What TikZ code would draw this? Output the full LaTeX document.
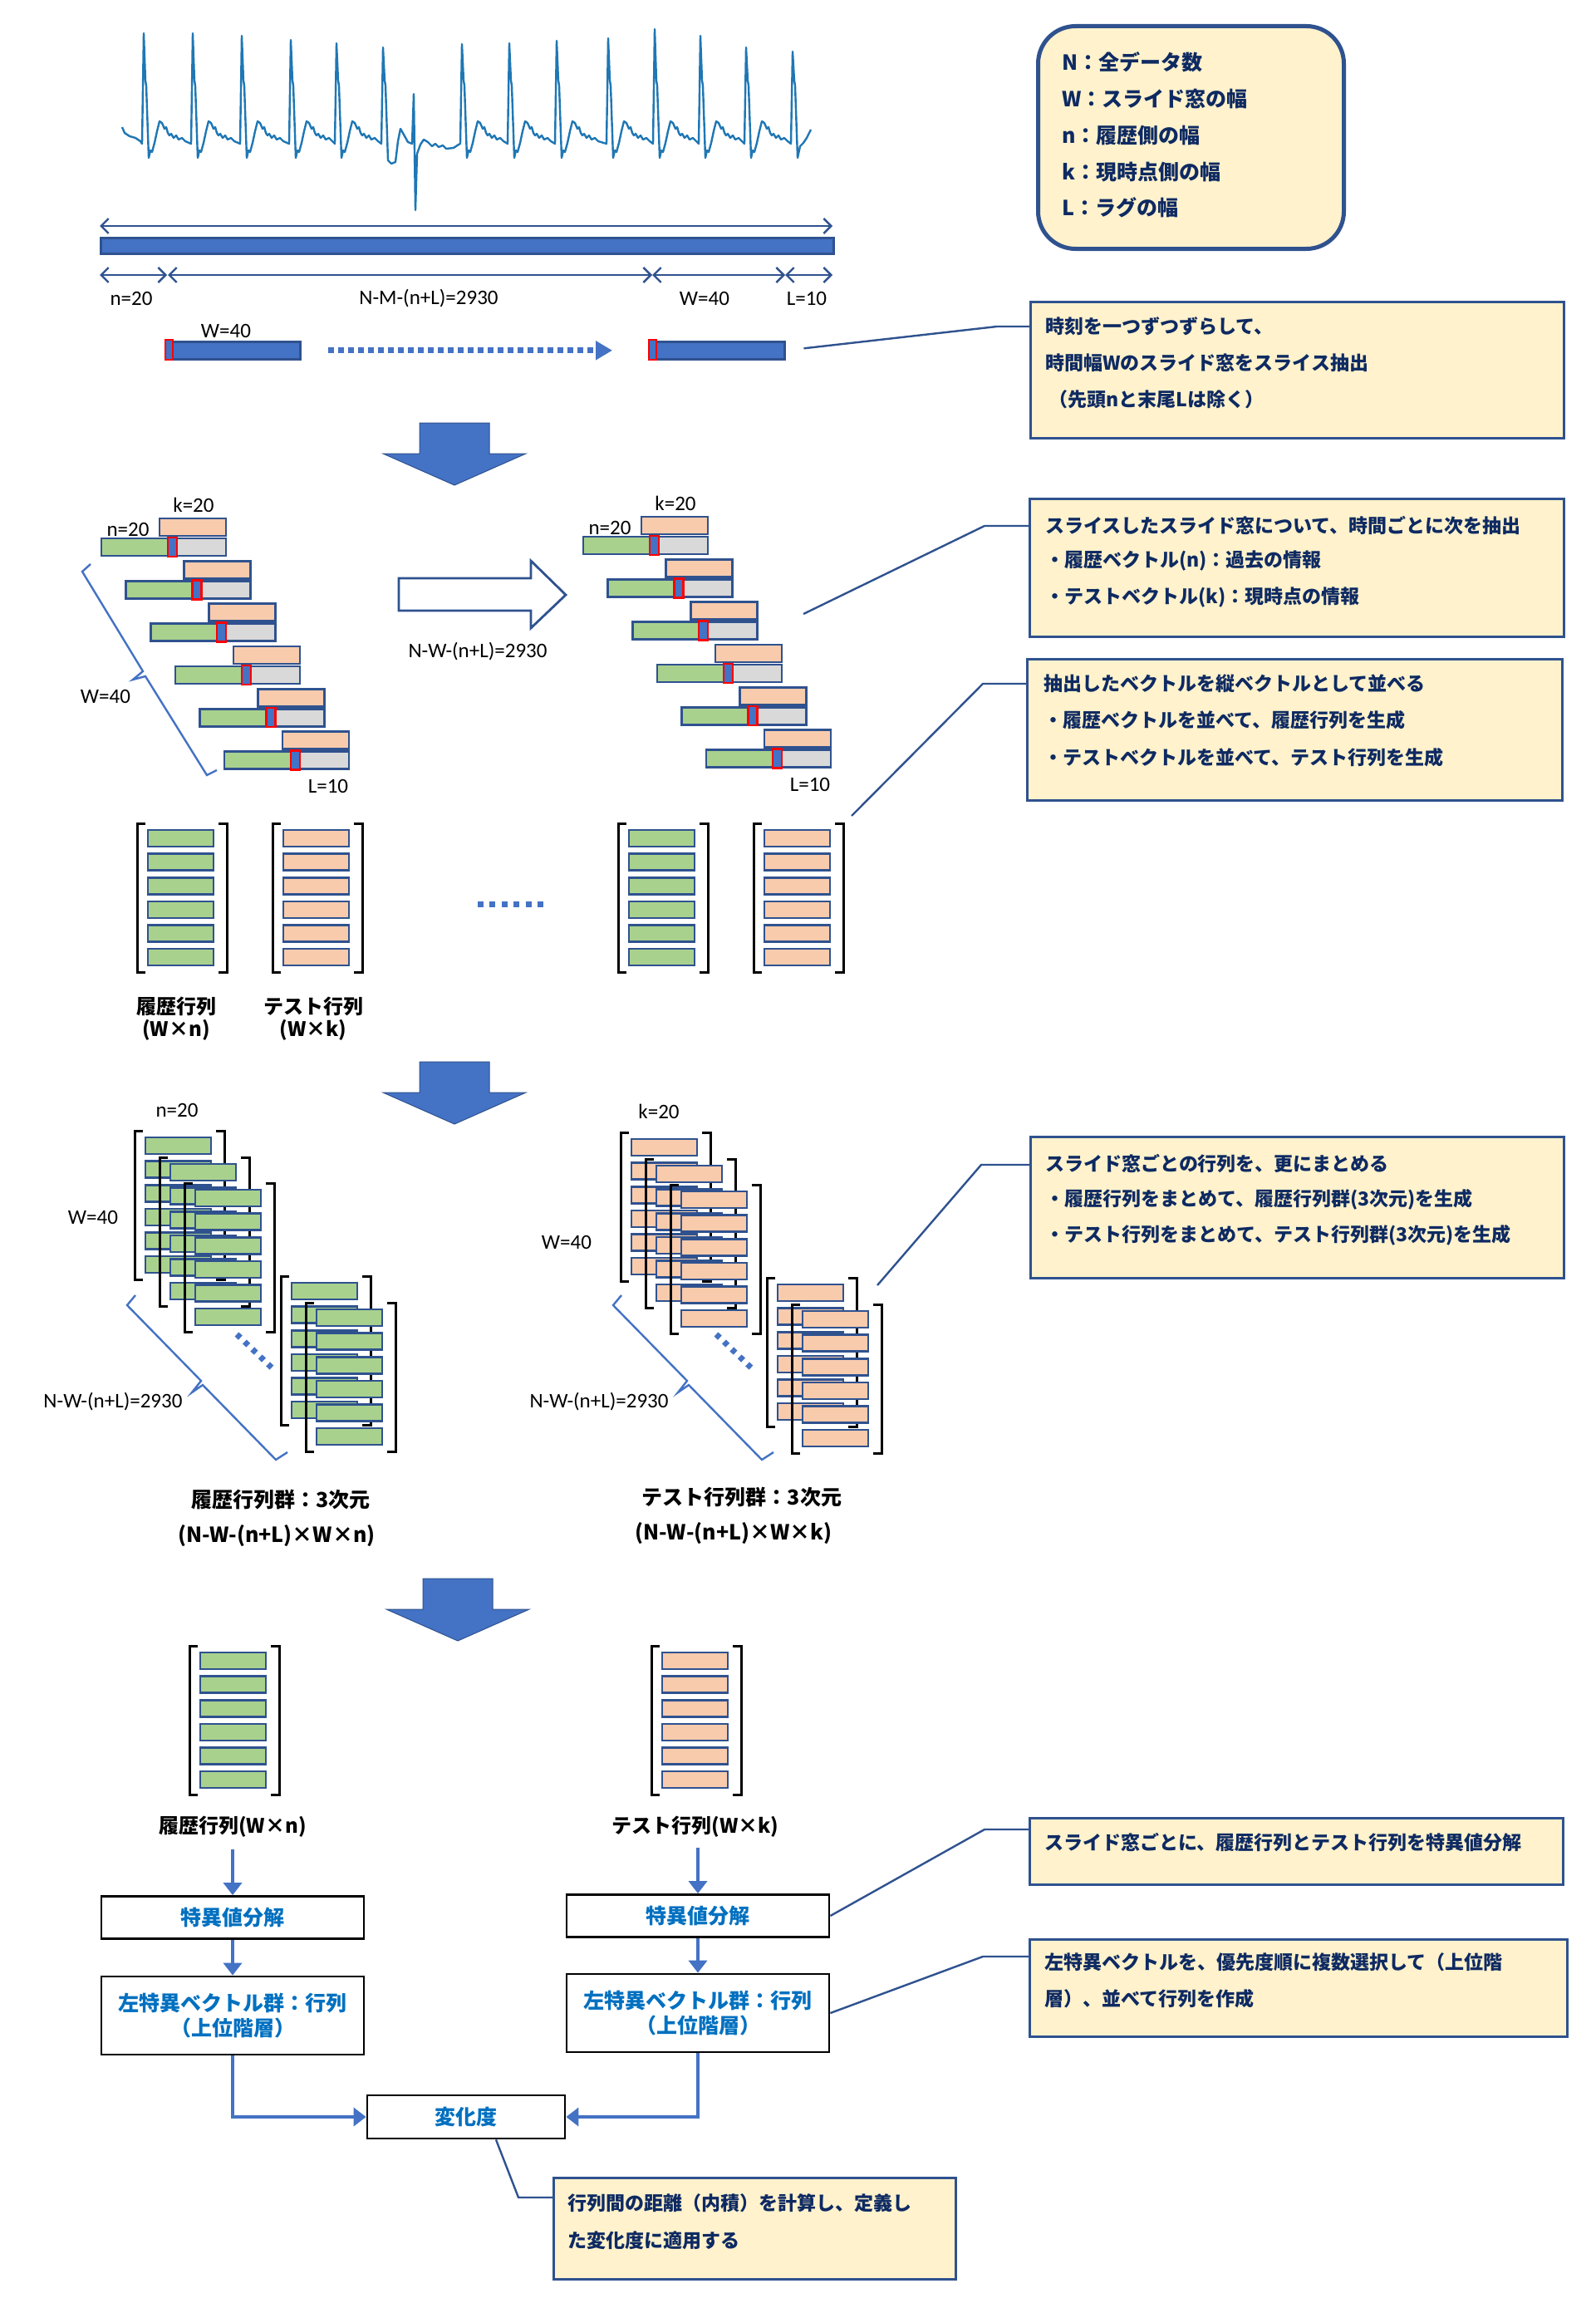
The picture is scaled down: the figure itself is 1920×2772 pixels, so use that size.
\documentclass[tikz,border=0pt]{standalone}
\usepackage{fontspec}
\newfontfamily\jp{Noto Sans CJK JP}
\newfontfamily\lat{Carlito}
\usetikzlibrary{arrows.meta,calc}

\definecolor{bfill}{HTML}{4472C4}
\definecolor{bedge}{HTML}{2F528F}
\definecolor{gfill}{HTML}{A9D18E}
\definecolor{ofill}{HTML}{F8CBAD}
\definecolor{grfill}{HTML}{D9D9D9}
\definecolor{notefill}{HTML}{FFF2CC}
\definecolor{txtnavy}{HTML}{0E2A62}
\definecolor{flowblue}{HTML}{0070C0}
\definecolor{ecgblue}{HTML}{1F77B4}

\newcommand\setfs[1]{\fontsize{#1}{#1}\selectfont}

% one window matrix: two brackets and six row vectors
\newcommand\vmat[3]{%
  \draw[brk] (#1+10,#2) -- (#1,#2) -- (#1,#2+179) -- (#1+10,#2+179);
  \draw[brk] (#1+98,#2) -- (#1+108,#2) -- (#1+108,#2+179) -- (#1+98,#2+179);
  \foreach \j in {0,...,5} \draw[#3] (#1+13,#2+8+28.6*\j) rectangle ++(79,20);
}

% sliding windows split into history / test parts
\newcommand\stairs{%
  \foreach \i in {0,...,5} {
    \pgfmathsetmacro\sx{122+29.6*\i}
    \pgfmathsetmacro\sy{648+51.3*\i}
    \draw[ob] (\sx+70,\sy-24) rectangle ++(80,21);
    \draw[gb] (\sx,\sy) rectangle ++(85,21);
    \draw[grb] (\sx+85,\sy) rectangle ++(65,21);
    \draw[redm] (\sx+80,\sy-1) rectangle ++(11,23);
  }}

% filled block arrow pointing down
\newcommand\blkarrow[2]{%
  \draw[blkarr] (#1-42,#2) -- (#1+42,#2) -- (#1+42,#2+37) -- (#1+86,#2+37)
    -- (#1,#2+75) -- (#1-86,#2+37) -- (#1-42,#2+37) -- cycle;}

% one beat of the signal, R peak at x=#1 reaching height #2
\newcommand\beat[2]{%
  -- (#1-2,173) -- (#1,#2) -- (#1+2,97) -- (#1+3,103) -- (#1+6,190) -- (#1+8,181)
  -- (#1+10,183) -- (#1+13,172) -- (#1+16,158) -- (#1+19,146) -- (#1+22,148)
  -- (#1+25,155) -- (#1+27,153) -- (#1+29,160) -- (#1+31,163) -- (#1+33,161)
  -- (#1+36,166) -- (#1+39,163) -- (#1+42,168) -- (#1+46,166) -- (#1+50,170)}

\tikzset{
  lbl/.style={font=\lat\setfs{25}, inner sep=0pt},
  blk/.style={font=\jp\bfseries\setfs{24}, inner sep=0pt},
  grp/.style={font=\jp\bfseries\setfs{25}, inner sep=0pt},
  note/.style={draw=bedge, line width=2.7pt, fill=notefill, anchor=north west, inner sep=0pt},
  ntxt/.style={font=\jp\bfseries\setfs{23}, text=txtnavy, inner sep=0pt, anchor=west},
  legtxt/.style={font=\jp\bfseries\setfs{25}, text=txtnavy, inner sep=0pt, anchor=west},
  gb/.style={draw=bedge, line width=2.6pt, fill=gfill},
  ob/.style={draw=bedge, line width=2.6pt, fill=ofill},
  grb/.style={draw=bedge, line width=2.6pt, fill=grfill},
  redm/.style={draw=red, line width=2.4pt, fill=bfill},
  brk/.style={draw=black, line width=3pt},
  bar/.style={draw=bedge, line width=2.6pt, fill=bfill, anchor=north west, inner sep=0pt},
  dim/.style={draw=bedge, line width=2.4pt, {Straight Barb[length=9pt,width=18pt]}-{Straight Barb[length=9pt,width=18pt]}},
  dotarr/.style={draw=bfill, line width=7pt, dash pattern=on 7pt off 5pt, -{Triangle[length=20pt,width=22pt]}},
  dots/.style={draw=bfill, line width=7pt, dash pattern=on 7pt off 7.4pt},
  ddots/.style={draw=bfill, line width=7pt, dash pattern=on 6pt off 7pt},
  blkarr/.style={fill=bfill, draw=bedge, line width=1pt},
  hollow/.style={fill=white, draw=bedge, line width=2.8pt},
  bracepath/.style={draw=bfill, line width=2.4pt, line join=miter},
  callout/.style={draw=bedge, line width=2.4pt},
  flowbox/.style={draw=black, line width=2.8pt, font=\jp\bfseries\fontsize{25}{30}\selectfont, text=flowblue, align=center, inner sep=0pt},
  flowarr/.style={draw=bfill, line width=4.5pt, -{Triangle[length=15pt,width=22pt]}},
  ecg/.style={draw=ecgblue, line width=2.4pt, line join=round},
}

\begin{document}
\begin{tikzpicture}[x=1pt,y=-1pt]
\useasboundingbox[fill=white] (0,0) rectangle (1920,2772);

% ---------------- signal ----------------
\draw[ecg] (147,153) -- (150,160) -- (156,164) -- (163,166) -- (169,170)
  \beat{173}{40} \beat{232}{40} \beat{291}{43} \beat{350}{48} \beat{405}{52}
  -- (459,173) -- (461,57) -- (463,97) -- (464,103) -- (467,193) -- (471,197) -- (476,195)
  -- (479,170) -- (482,155) -- (486,162) -- (491,171) -- (496,173) -- (498,113) -- (500,253)
  -- (502,185) -- (506,174) -- (510,168) -- (515,171) -- (520,176) -- (524,173) -- (528,177)
  -- (533,175) -- (537,179) -- (546,178) -- (552,174)
  \beat{556}{53} \beat{613}{52} \beat{670}{49} \beat{732}{46} \beat{788}{35} \beat{843}{43} \beat{898}{57}
  -- (952,173) -- (954,62) -- (956,97) -- (957,103) -- (960,190) -- (963,176)
  -- (967,172) -- (971,166) -- (976,156);

% ---------------- whole series and its parts ----------------
\draw[dim] (120,272) -- (1002,272);
\node[bar, minimum width=882pt, minimum height=19pt] (series) at (120,285) {};
\draw[dim] (120,331) -- (201,331);
\draw[dim] (202,331) -- (785,331);
\draw[dim] (785,331) -- (945,331);
\draw[dim] (945,331) -- (1002,331);
\node[lbl] (tn) at (158,359) {n=20};
\node[lbl] (tnm) at (516,359) {N-M-(n+L)=2930};
\node[lbl] (tw) at (848,359) {W=40};
\node[lbl] (tl) at (971,359) {L=10};

\node[lbl] (w1) at (272,398) {W=40};
\node[bar, minimum width=160pt, minimum height=21pt] (bar1) at (200,410) {};
\draw[redm] (199,409) rectangle (208,433);
\node[bar, minimum width=162pt, minimum height=21pt] (bar2) at (781,410) {};
\draw[redm] (781,409) rectangle (790,433);
\draw[dotarr, shorten <=32pt, shorten >=44pt] (bar1.east) -- (bar2.west);

% ---------------- legend ----------------
\node[note, rounded corners=45pt, line width=5pt, minimum width=368pt, minimum height=268pt] (legend) at (1247,29) {};
\node[legtxt] (l1) at (1278,75) {N：全データ数};
\node[legtxt] (l2) at (1278,119) {W：スライド窓の幅};
\node[legtxt] (l3) at (1278,163) {n：履歴側の幅};
\node[legtxt] (l4) at (1278,207) {k：現時点側の幅};
\node[legtxt] (l5) at (1278,250) {L：ラグの幅};

% ---------------- notes ----------------
\node[note, minimum width=642pt, minimum height=164pt] (box1) at (1239,362) {};
\node[ntxt] (t11) at (1258,393) {時刻を一つずつずらして、};
\node[ntxt] (t12) at (1258,437) {時間幅Wのスライド窓をスライス抽出};
\node[ntxt] (t13) at (1262,481) {（先頭nと末尾Lは除く）};

\node[note, minimum width=643pt, minimum height=166pt] (box2) at (1238,599) {};
\node[ntxt] (t21) at (1258,632) {スライスしたスライド窓について、時間ごとに次を抽出};
\node[ntxt] (t22) at (1258,675) {・履歴ベクトル(n)：過去の情報};
\node[ntxt] (t23) at (1258,719) {・テストベクトル(k)：現時点の情報};

\node[note, minimum width=644pt, minimum height=170pt] (box3) at (1235,792) {};
\node[ntxt] (t31) at (1256,823) {抽出したベクトルを縦ベクトルとして並べる};
\node[ntxt] (t32) at (1256,867) {・履歴ベクトルを並べて、履歴行列を生成};
\node[ntxt] (t33) at (1256,912) {・テストベクトルを並べて、テスト行列を生成};

\node[note, minimum width=642pt, minimum height=170pt] (box4) at (1239,1367) {};
\node[ntxt] (t41) at (1258,1401) {スライド窓ごとの行列を、更にまとめる};
\node[ntxt] (t42) at (1258,1444) {・履歴行列をまとめて、履歴行列群(3次元)を生成};
\node[ntxt] (t43) at (1258,1487) {・テスト行列をまとめて、テスト行列群(3次元)を生成};

\node[note, minimum width=642pt, minimum height=80pt] (box5) at (1238,2187) {};
\node[ntxt] (t51) at (1257,2218) {スライド窓ごとに、履歴行列とテスト行列を特異値分解};

\node[note, minimum width=647pt, minimum height=117pt] (box6) at (1238,2333) {};
\node[ntxt] (t61) at (1257,2362) {左特異ベクトルを、優先度順に複数選択して（上位階};
\node[ntxt] (t62) at (1257,2406) {層）、並べて行列を作成};

\node[note, minimum width=484pt, minimum height=122pt] (box7) at (665,2620) {};
\node[ntxt] (t71) at (683,2652) {行列間の距離（内積）を計算し、定義し};
\node[ntxt] (t72) at (683,2697) {た変化度に適用する};

% ---------------- block arrows ----------------
\blkarrow{547}{509}
\blkarrow{547}{1278}
\blkarrow{551}{1900}

% ---------------- history / test split ----------------
\stairs
\begin{scope}[shift={(580,-2)}]
  \stairs
  \node[lbl] (k2) at (233,608) {k=20};
  \node[lbl] (n2) at (154,637) {n=20};
  \node[lbl] (L2) at (395,946) {L=10};
\end{scope}
\node[lbl] (k1) at (233,608) {k=20};
\node[lbl] (n1) at (154,637) {n=20};
\node[lbl] (L1) at (395,946) {L=10};
\node[lbl] (W1) at (127,838) {W=40};
\draw[bracepath] (109,679) -- (99,688) -- (172,808) -- (160,818) -- (175,814) -- (249,933) -- (261,927);

\draw[hollow] (480,696) -- (639,696) -- (639,675) -- (681,716) -- (639,756) -- (639,735) -- (480,735) -- cycle;
\node[lbl] (nw1) at (575,784) {N-W-(n+L)=2930};

% ---------------- matrices per window ----------------
\vmat{165}{991}{gb}
\vmat{328}{991}{ob}
\vmat{744}{991}{gb}
\vmat{907}{991}{ob}
\draw[dots] (575,1088) -- (655,1088);
\node[blk] (hm) at (212,1211) {履歴行列};
\node[blk] (hms) at (212,1240) {(W×n)};
\node[blk] (tm) at (377,1211) {テスト行列};
\node[blk] (tms) at (377,1240) {(W×k)};

% ---------------- stacked matrices ----------------
\vmat{162}{1361}{gb}
\vmat{192}{1393}{gb}
\vmat{222}{1424}{gb}
\vmat{338}{1536}{gb}
\vmat{368}{1568}{gb}
\draw[ddots] (285,1606) -- (330,1649);
\draw[bracepath] (163,1559) -- (153,1571) -- (242,1662) -- (231,1676) -- (244,1667) -- (332,1757) -- (346,1748);
\node[lbl] (n3) at (213,1336) {n=20};
\node[lbl] (W3) at (112,1465) {W=40};
\node[lbl] (nw3) at (136,1687) {N-W-(n+L)=2930};

\begin{scope}[shift={(585,2)}]
  \vmat{162}{1361}{ob}
  \vmat{192}{1393}{ob}
  \vmat{222}{1424}{ob}
  \vmat{338}{1536}{ob}
  \vmat{368}{1568}{ob}
  \draw[ddots] (277,1604) -- (322,1647);
  \draw[bracepath] (163,1557) -- (153,1569) -- (242,1660) -- (231,1674) -- (244,1665) -- (332,1755) -- (346,1746);
\end{scope}
\node[lbl] (k3) at (793,1338) {k=20};
\node[lbl] (W4) at (682,1495) {W=40};
\node[lbl] (nw4) at (721,1687) {N-W-(n+L)=2930};

\node[grp] (g1) at (338,1805) {履歴行列群：3次元};
\node[grp] (g1s) at (333,1849) {(N-W-(n+L)×W×n)};
\node[grp] (g2) at (893,1802) {テスト行列群：3次元};
\node[grp] (g2s) at (883,1846) {(N-W-(n+L)×W×k)};

% ---------------- decomposition flow ----------------
\vmat{228}{1981}{gb}
\vmat{784}{1981}{ob}
\node[blk] (lblL) at (280,2199) {履歴行列(W×n)};
\node[blk] (lblR) at (837,2199) {テスト行列(W×k)};

\node[flowbox, minimum width=316pt, minimum height=51pt] (svdL) at (280,2308) {特異値分解};
\node[flowbox, minimum width=316pt, minimum height=51pt] (svdR) at (840,2306) {特異値分解};
\node[flowbox, minimum width=316pt, minimum height=94pt] (vecL) at (280,2426) {左特異ベクトル群：行列\\（上位階層）};
\node[flowbox, minimum width=316pt, minimum height=94pt] (vecR) at (840,2423) {左特異ベクトル群：行列\\（上位階層）};
\node[flowbox, minimum width=238pt, minimum height=52pt] (henka) at (561,2548) {変化度};

\draw[flowarr, shorten <=14pt] (lblL.south) -- (svdL.north);
\draw[flowarr, shorten <=12pt] (lblR.south -| svdR.north) -- (svdR.north);
\draw[flowarr] (svdL.south) -- (vecL.north);
\draw[flowarr] (svdR.south) -- (vecR.north);
\draw[flowarr] (vecL.south) |- (henka.west);
\draw[flowarr] (vecR.south) |- (henka.east);

% ---------------- callout leaders ----------------
\coordinate (c1) at (1200,393);
\draw[callout, shorten <=22pt] (bar2.east) -- (c1) -- (c1 -| box1.west);
\coordinate (s2) at (967,739);
\coordinate (c2) at (1185,633);
\draw[callout] (s2) -- (c2) -- (c2 -| box2.west);
\coordinate (s3) at (1025,982);
\coordinate (c3) at (1183,823);
\draw[callout] (s3) -- (c3) -- (c3 -| box3.west);
\coordinate (s4) at (1056,1547);
\coordinate (c4) at (1181,1402);
\draw[callout] (s4) -- (c4) -- (c4 -| box4.west);
\coordinate (c5) at (1185,2202);
\draw[callout] (svdR.east) -- (c5) -- (c5 -| box5.west);
\coordinate (c6) at (1183,2355);
\draw[callout] (vecR.east) -- (c6) -- (c6 -| box6.west);
\coordinate (c7) at (624,2645);
\draw[callout] ($(henka.south)+(36,0)$) -- (c7) -- (c7 -| box7.west);

\end{tikzpicture}
\end{document}
